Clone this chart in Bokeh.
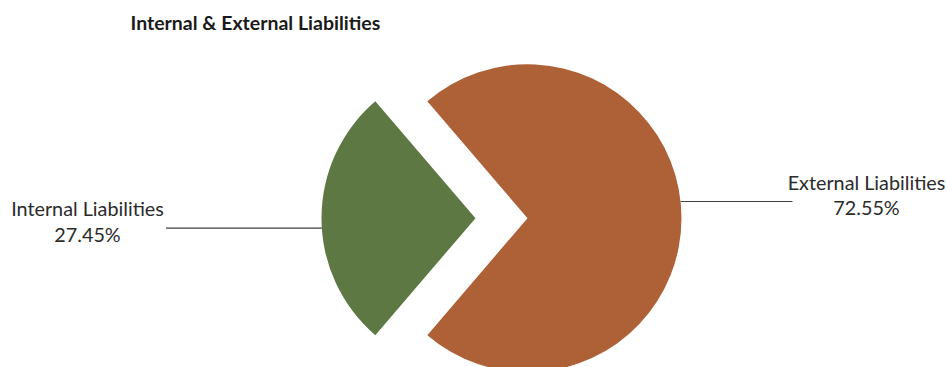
import math
from bokeh.plotting import figure
from bokeh.models import Range1d, ColumnDataSource
from bokeh.core.properties import value
from bokeh.embed import file_html
from bokeh.resources import INLINE

# ---- data ----
categories = ["Internal Liabilities", "External Liabilities"]
shares = [27.45, 72.55]
colors = ["#5E7843", "#AE6036"]
title_text = "Internal & External Liabilities"

W, H = 946, 367
FONT = "Lato"

p = figure(width=W, height=H, x_range=Range1d(0, W), y_range=Range1d(0, H),
           output_backend="svg", toolbar_location=None,
           x_axis_type=None, y_axis_type=None, min_border=0)
p.outline_line_color = None
p.xgrid.visible = False
p.ygrid.visible = False
p.background_fill_color = "white"
p.border_fill_color = "white"

def Y(py):
    return H - py

# geometry (layout)
R = 154
cy = Y(217.7)
tips_x = [475, 527]           # exploded centres: internal left, external right

total = sum(shares)
half_int = math.pi * shares[0] / total  # half angle of internal slice
starts = [math.pi - half_int, math.pi + half_int]
ends = [math.pi + half_int, math.pi - half_int + 2 * math.pi]

src = ColumnDataSource(dict(x=tips_x, y=[cy, cy], start=starts, end=ends, color=colors))
p.wedge(x="x", y="y", radius=R, start_angle="start", end_angle="end",
        fill_color="color", line_color=None, source=src)

# leader lines
ly_int = Y(227.7)
dx_int = math.sqrt(R**2 - (ly_int - cy) ** 2)
p.line([165.5, tips_x[0] - dx_int], [ly_int, ly_int], line_color="#404040", line_width=1.2)
ly_ext = Y(201)
dx_ext = math.sqrt(R**2 - (ly_ext - cy) ** 2)
p.line([tips_x[1] + dx_ext, 792], [ly_ext, ly_ext], line_color="#404040", line_width=1.2)

# labels
fs = "19.8px"
labels_x = [87, 866]
name_y = [Y(207), Y(181)]
pct_y = [Y(233), Y(206)]
p.text(x=labels_x, y=name_y, text=categories, text_align="center",
       text_baseline="alphabetic", text_font=value(FONT), text_font_size=fs,
       text_color="#2b2b2b")
p.text(x=labels_x, y=pct_y, text=[f"{s:.2f}%" for s in shares], text_align="center",
       text_baseline="alphabetic", text_font=value(FONT), text_font_size=fs,
       text_color="#2b2b2b")

# title
p.text(x=[130], y=[Y(22)], text=[title_text], text_align="left",
       text_baseline="alphabetic", text_font=value(FONT), text_font_size="19.5px",
       text_font_style="bold", text_color="#1a1a1a")

open("out.html", "w").write(file_html(p, INLINE))
